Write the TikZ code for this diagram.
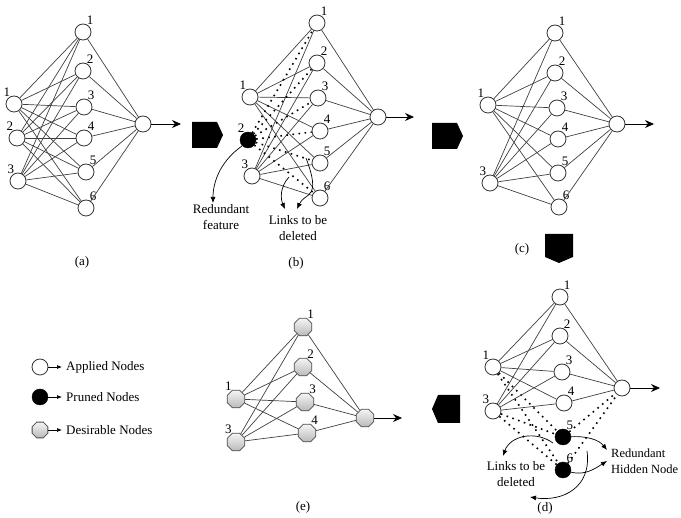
\documentclass[tikz,border=0pt]{standalone}
\usepackage{fontspec}
\setmainfont{Liberation Serif}
\usetikzlibrary{arrows.meta,shapes.geometric}
\begin{document}
\begin{tikzpicture}[x=1pt,y=-1pt,
 every node/.style={font=\fontsize{13}{16}\selectfont},
 nd/.style={circle,draw=black!80,line width=0.8pt,fill=white,minimum size=16pt,inner sep=0pt},
 pr/.style={circle,draw=black,fill=black,minimum size=16pt,inner sep=0pt},
 ds/.style={regular polygon,regular polygon sides=8,draw=black!70,line width=0.8pt,top color=gray!8,bottom color=gray!55,minimum size=19pt,inner sep=0pt},
 il/.style={label={[inner sep=0.5pt,label distance=-1pt]115:#1}},
 hl/.style={label={[inner sep=0.5pt,label distance=-1pt]65:#1}},
 ln/.style={draw=black!75,line width=0.7pt},
 dt/.style={draw=black,line width=1.6pt,dash pattern=on 1.6pt off 4.5pt},
 outarr/.style={line width=0.8pt,-{Stealth[length=9pt,width=8pt,inset=3pt]}},
 carr/.style={line width=0.7pt,-{Latex[length=6pt,width=5pt]}},
 legarr/.style={line width=0.7pt,-{Latex[length=5pt,width=4pt]}},
 txt/.style={align=center,inner sep=0pt}
]
\useasboundingbox (0,0) rectangle (681,518);

% ---------------- (a)
\node[nd,il=1] (ai1) at (14,104) {};
\node[nd,il=2] (ai2) at (17,138) {};
\node[nd,il=3] (ai3) at (18,181) {};
\foreach \j/\x/\y in {1/83/32,2/83/71,3/84/107,4/84/138,5/86/172,6/86/208}
  \node[nd,hl=\j] (ah\j) at (\x,\y) {};
\node[nd] (aout) at (143,124) {};
\coordinate (aend) at (181,124);
\foreach \i in {1,2,3}
  \foreach \j in {1,...,6}
    \draw[ln] (ai\i) -- (ah\j);
\foreach \j in {1,...,6} \draw[ln] (ah\j) -- (aout);
\draw[outarr] (aout) -- (aend);
\node (alab) at (82,262) {(a)};

% ---------------- (b)
\fill (192,122) -- (217,122) -- (223,135) -- (217,148) -- (192,148) -- cycle;
\node[nd,il=1] (bi1) at (250,97) {};
\node[pr,il=2] (bi2) at (248,140) {};
\node[nd,il=3] (bi3) at (252,176) {};
\foreach \j/\x/\y in {1/317/23,2/317/63,3/318/98,4/320/131,5/320/163,6/320/198}
  \node[nd,hl=\j] (bh\j) at (\x,\y) {};
\node[nd] (bout) at (378,117) {};
\coordinate (bend) at (414,117);
\foreach \i in {1,3}
  \foreach \j in {1,...,6}
    \draw[ln] (bi\i) -- (bh\j);
\foreach \j in {1,...,6} \draw[dt] (bi2) -- (bh\j);
\foreach \j in {1,...,6} \draw[ln] (bh\j) -- (bout);
\draw[outarr] (bout) -- (bend);
\node[txt] (bred) at (221,217) {Redundant\\feature};
\node[txt] (blnk) at (298,228) {Links to be\\deleted};
\coordinate (bc1s) at (242,146);
\coordinate (bc1e) at (213,203);
\draw[carr] (bc1s) .. controls (222,160) and (213,180) .. (bc1e);
\coordinate (bc2s) at (289,177);
\coordinate (bc2e) at (285,209);
\draw[carr] (bc2s) .. controls (279,188) and (281,200) .. (bc2e);
\coordinate (bc3s) at (306,158);
\coordinate (bc3e) at (297,209);
\draw[carr] (bc3s) .. controls (322,200) and (305,192) .. (bc3e);
\node (blab) at (296,263) {(b)};

% ---------------- (c)
\fill (432,123) -- (457,123) -- (463,136) -- (457,149) -- (432,149) -- cycle;
\node[nd,il=1] (ci1) at (488,105) {};
\node[nd,il=3] (ci3) at (490,183) {};
\foreach \j/\x/\y in {1/555/33,2/555/73,3/557/108,4/558/139,5/558/173,6/559/207}
  \node[nd,hl=\j] (ch\j) at (\x,\y) {};
\node[nd] (cout) at (617,124) {};
\coordinate (cend) at (654,124);
\foreach \i in {1,3}
  \foreach \j in {1,...,6}
    \draw[ln] (ci\i) -- (ch\j);
\foreach \j in {1,...,6} \draw[ln] (ch\j) -- (cout);
\draw[outarr] (cout) -- (cend);
\node (clab) at (522,249) {(c)};
\fill (545,234) -- (573,234) -- (573,257) -- (559,263) -- (545,257) -- cycle;

% ---------------- (d)
\node[nd,il=1] (di1) at (493,367) {};
\node[nd,il=3] (di3) at (493,411) {};
\foreach \j/\x/\y in {1/560/297,2/560/336,3/562/372,4/564/403}
  \node[nd,hl=\j] (dh\j) at (\x,\y) {};
\node[pr,hl=5] (dh5) at (563,437) {};
\node[pr,hl=6] (dh6) at (563,470) {};
\node[nd] (dout) at (622,388) {};
\coordinate (dend) at (660,388);
\foreach \i in {1,3}{
  \foreach \j in {1,...,4} \draw[ln] (di\i) -- (dh\j);
  \foreach \j in {5,6} \draw[dt] (di\i) -- (dh\j);
}
\foreach \j in {1,...,4} \draw[ln] (dh\j) -- (dout);
\foreach \j in {5,6} \draw[dt] (dh\j) -- (dout);
\draw[outarr] (dout) -- (dend);
\node[txt] (dlnk) at (516,474) {Links to be\\deleted};
\node[txt,anchor=west,align=left,font=\fontsize{12.5}{15.5}\selectfont] (dred) at (611,461) {Redundant\\Hidden Node};
\coordinate (dc1e) at (607,450);
\draw[carr] (dh5) .. controls (588,436) and (599,440) .. (dc1e);
\coordinate (dc2e) at (607,461);
\draw[carr] (dh6) .. controls (585,476) and (596,468) .. (dc2e);
\coordinate (dc3s) at (553,443);
\coordinate (dc3e) at (503,456);
\draw[carr] (dc3s) .. controls (535,430) and (510,436) .. (dc3e);
\coordinate (dc4s) at (587,451);
\coordinate (dc4e) at (530,497);
\draw[carr] (dc4s) .. controls (592,488) and (562,502) .. (dc4e);
\node (dlab) at (545,508) {(d)};

% ---------------- (e)
\fill (460,395) -- (438,395) -- (432,409) -- (438,423) -- (460,423) -- cycle;
\node[ds,il=1] (ei1) at (236,399) {};
\node[ds,il=3] (ei3) at (236,442) {};
\foreach \j/\x/\y in {1/303/327,2/303/367,3/305/402,4/307/433}
  \node[ds,hl=\j] (eh\j) at (\x,\y) {};
\node[ds] (eout) at (365,418) {};
\coordinate (eend) at (402,418);
\foreach \i in {1,3}
  \foreach \j in {1,...,4}
    \draw[ln] (ei\i) -- (eh\j);
\foreach \j in {1,...,4} \draw[ln] (eh\j) -- (eout);
\draw[outarr] (eout) -- (eend);
\node (elab) at (303,507) {(e)};

% ---------------- legend
\node[nd] (l1) at (40,367) {};
\node[pr] (l2) at (40,397) {};
\node[ds,minimum size=17pt] (l3) at (40,430) {};
\foreach \k/\t in {1/Applied Nodes,2/Pruned Nodes,3/Desirable Nodes}{
  \path (l\k) ++(22,0) coordinate (l\k e);
  \draw[legarr] (l\k) -- (l\k e);
  \node[anchor=west,inner sep=0pt] (l\k t) at ([xshift=4pt]l\k e) {\t};
}
\end{tikzpicture}
\end{document}
